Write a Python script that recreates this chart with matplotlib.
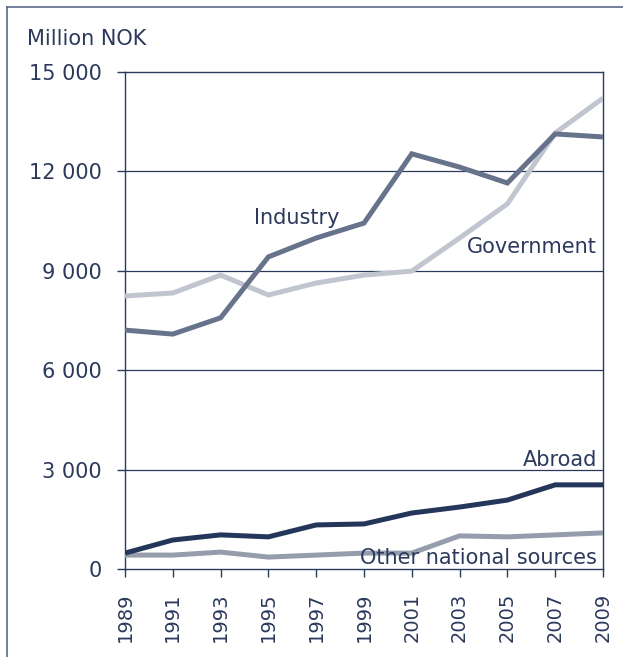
import matplotlib
matplotlib.use("Agg")
import matplotlib.pyplot as plt
from matplotlib.lines import Line2D

years = [1989, 1991, 1993, 1995, 1997, 1999, 2001, 2003, 2005, 2007, 2009]
industry = [7210, 7090, 7580, 9420, 9990, 10440, 12530, 12130, 11650, 13130, 13040]
government = [8240, 8330, 8870, 8270, 8630, 8870, 8990, 9990, 11020, 13160, 14210]
abroad = [480, 875, 1030, 970, 1330, 1360, 1690, 1870, 2080, 2540, 2540]
other = [420, 420, 510, 360, 420, 480, 480, 1000, 970, 1030, 1090]

y_ticks = [0, 3000, 6000, 9000, 12000, 15000]
y_labels = ["0", "3 000", "6 000", "9 000", "12 000", "15 000"]

NAVY = "#2b3a5c"
TEXT = "#2b3a5c"

fig = plt.figure(figsize=(6.23, 6.57), dpi=100)
ax = fig.add_axes([125 / 623, 1 - 569 / 657, 478 / 623, 497 / 657])

for v in y_ticks[1:-1]:
    ax.axhline(v, color=NAVY, linewidth=0.9, zorder=1)

lw = 3.6
ax.plot(years, government, color="#c0c5cf", linewidth=lw, zorder=3,
        solid_joinstyle="miter", solid_capstyle="butt")
ax.plot(years, industry, color="#67728b", linewidth=lw, zorder=4,
        solid_joinstyle="miter", solid_capstyle="butt")
ax.plot(years, other, color="#959dad", linewidth=lw, zorder=3,
        solid_joinstyle="miter", solid_capstyle="butt")
ax.plot(years, abroad, color="#243659", linewidth=lw, zorder=4,
        solid_joinstyle="miter", solid_capstyle="butt")

ax.set_xlim(1989, 2009)
ax.set_ylim(0, 15000)
ax.set_xticks(years)
ax.set_xticklabels([str(y) for y in years], rotation=90)
ax.set_yticks(y_ticks)
ax.set_yticklabels(y_labels)
ax.tick_params(axis="both", colors=NAVY, labelcolor=TEXT,
               length=6, width=1, direction="out")
ax.tick_params(axis="y", pad=11, labelsize=15)
ax.tick_params(axis="x", pad=11, labelsize=14)
for s in ax.spines.values():
    s.set_color(NAVY)
    s.set_linewidth(1)

lab = dict(color=TEXT, fontsize=15, zorder=6)
ax.text(1996.2, 10590, "Industry", ha="center", va="center", **lab)
ax.text(2008.75, 9720, "Government", ha="right", va="center", **lab)
ax.text(2008.75, 3290, "Abroad", ha="right", va="center", **lab)
ax.text(2008.75, 330, "Other national sources", ha="right", va="center", **lab)

fig.text(27 / 623, 1 - 45 / 657, "Million NOK", ha="left", va="baseline",
         color=TEXT, fontsize=15)

# outer frame (only top and left edges are visible)
fx, fy = 7 / 623, 1 - 7 / 657
fig.add_artist(Line2D([fx, 1], [fy, fy], transform=fig.transFigure,
                      color="#5b6a88", linewidth=1.2))
fig.add_artist(Line2D([fx, fx], [0, fy], transform=fig.transFigure,
                      color="#5b6a88", linewidth=1.2))

fig.savefig("out.png", dpi=100)
